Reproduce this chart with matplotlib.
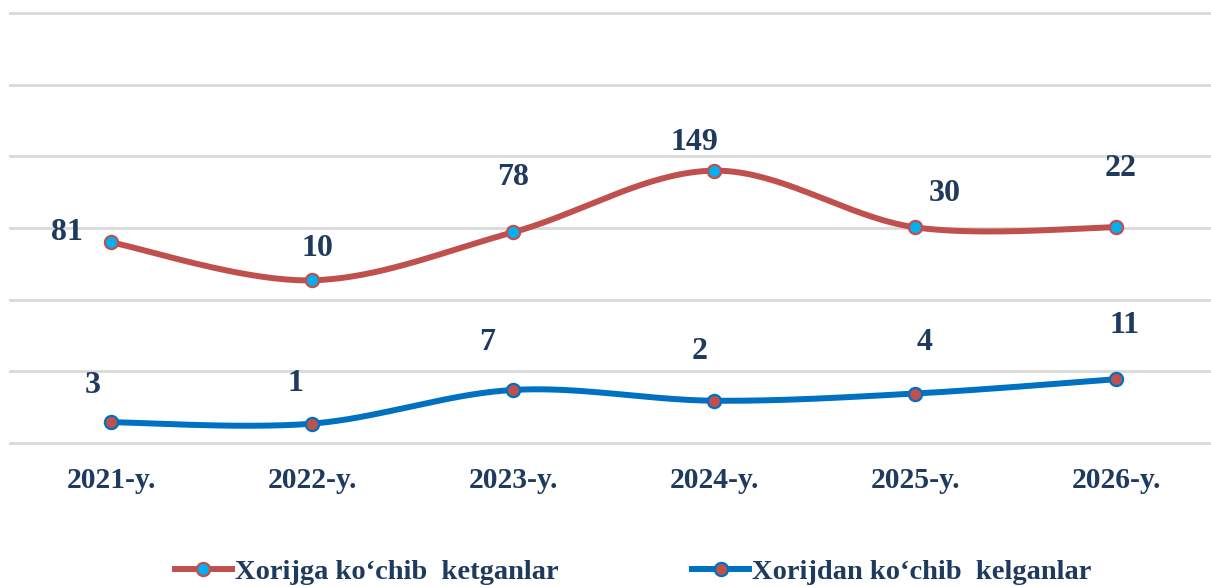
import numpy as np
import matplotlib.pyplot as plt
from matplotlib.lines import Line2D

years = ['2021-y.', '2022-y.', '2023-y.', '2024-y.', '2025-y.', '2026-y.']

# plotted heights (chart units, gridline every 10) and the printed data labels
ketgan_y = [28.0, 22.7, 29.4, 38.0, 30.1, 30.1]
kelgan_y = [2.9, 2.7, 7.4, 5.9, 6.9, 8.9]
ketgan_lbl = [81, 10, 78, 149, 30, 22]
kelgan_lbl = [3, 1, 7, 2, 4, 11]

# label offsets in pixels (dx, dy)
ketgan_off = [(-44, 10), (5, 32), (0, 55), (-20, 28), (30, 34), (5, 59)]
kelgan_off = [(-18, 37), (-17, 40), (-26, 47), (-14, 49), (10, 51), (8, 54)]

red = '#C0504D'
blue = '#0070C0'
cyan = '#00B0F0'
txt = '#1F3A5F'

plt.rcParams['font.family'] = ['Liberation Serif', 'DejaVu Serif']
plt.rcParams['font.weight'] = 'bold'


def smooth(y, n=40):
    # excel-like bezier smoothing through the points
    x = np.arange(len(y), dtype=float)
    y = np.asarray(y, dtype=float)
    px = np.concatenate([[x[0]], x, [x[-1]]])
    py = np.concatenate([[y[0]], y, [y[-1]]])
    xs, ys = [], []
    t = np.linspace(0, 1, n)
    for i in range(len(y) - 1):
        p0 = np.array([px[i + 1], py[i + 1]])
        p3 = np.array([px[i + 2], py[i + 2]])
        p1 = p0 + (p3 - np.array([px[i], py[i]])) / 6
        p2 = p3 - (np.array([px[i + 3], py[i + 3]]) - p0) / 6
        b = (np.outer((1 - t) ** 3, p0) + np.outer(3 * (1 - t) ** 2 * t, p1)
             + np.outer(3 * (1 - t) * t ** 2, p2) + np.outer(t ** 3, p3))
        xs.extend(b[:, 0])
        ys.extend(b[:, 1])
    return xs, ys


fig = plt.figure(figsize=(12.11, 5.87), dpi=100)
ax = fig.add_axes([10.5 / 1211, 1 - 443 / 587, 1206 / 1211, 430 / 587])

idx = np.arange(len(years))
for vals, lc, mc, lbls, offs in [(ketgan_y, red, cyan, ketgan_lbl, ketgan_off),
                                 (kelgan_y, blue, red, kelgan_lbl, kelgan_off)]:
    sx, sy = smooth(vals)
    ax.plot(sx, sy, color=lc, lw=4.3, solid_capstyle='round', zorder=3)
    ax.plot(idx, vals, 'o', ms=9.5, mfc=mc, mec=lc, mew=1.6, zorder=4)
    for i, v in enumerate(vals):
        ax.annotate(str(lbls[i]), (i, v), xytext=offs[i], textcoords='offset pixels',
                    ha='center', va='center', fontsize=23, color=txt, fontweight='bold')

ax.set_xlim(-0.5, 5.5)
ax.set_ylim(0, 60)
ax.set_yticks(np.arange(0, 61, 10))
ax.yaxis.grid(True, color='#D9D9D9', lw=2)
for gl in ax.get_ygridlines():
    gl.set_clip_on(False)
ax.set_axisbelow(True)
ax.tick_params(axis='y', left=False, labelleft=False)
ax.set_xticks(idx)
ax.set_xticklabels(years, fontsize=21.3, color=txt, fontweight='bold')
ax.tick_params(axis='x', length=0, pad=17)
for s in ax.spines.values():
    s.set_visible(False)

handles = [
    Line2D([], [], color=red, lw=4.3, marker='o', ms=9.5, mfc=cyan, mec=red, mew=1.6),
    Line2D([], [], color=blue, lw=4.3, marker='o', ms=9.5, mfc=red, mec=blue, mew=1.6),
]
fig.legend(handles, ['Xorijga ko\u2018chib  ketganlar', 'Xorijdan ko\u2018chib  kelganlar'],
           loc='center', bbox_to_anchor=(633 / 1211, 1 - 572 / 587), ncol=2, frameon=False,
           handlelength=2.0, handletextpad=0.1, columnspacing=4.7,
           prop={'size': 20.5, 'weight': 'bold'}, labelcolor=txt)

fig.savefig('out.png', dpi=100)
